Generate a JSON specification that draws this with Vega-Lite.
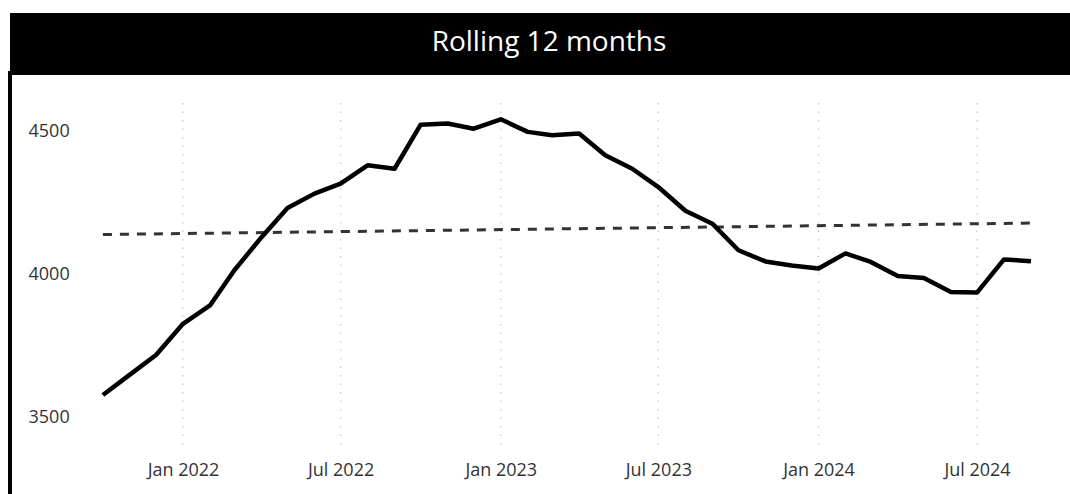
{
  "$schema": "https://vega.github.io/schema/vega-lite/v6.json",
  "padding": {"left": 8, "top": 13, "right": 0, "bottom": 0},
  "background": "white",
  "spacing": 0,
  "config": {"font": "Open Sans", "concat": {"spacing": 0}},
  "datasets": {
    "rolling": [
      {"month": "2021-10-01", "value": 3577},
      {"month": "2021-11-01", "value": 3648},
      {"month": "2021-12-01", "value": 3717},
      {"month": "2022-01-01", "value": 3826},
      {"month": "2022-02-01", "value": 3890},
      {"month": "2022-03-01", "value": 4013},
      {"month": "2022-04-01", "value": 4128},
      {"month": "2022-05-01", "value": 4231},
      {"month": "2022-06-01", "value": 4281},
      {"month": "2022-07-01", "value": 4316},
      {"month": "2022-08-01", "value": 4380},
      {"month": "2022-09-01", "value": 4368},
      {"month": "2022-10-01", "value": 4522},
      {"month": "2022-11-01", "value": 4526},
      {"month": "2022-12-01", "value": 4508},
      {"month": "2023-01-01", "value": 4541},
      {"month": "2023-02-01", "value": 4497},
      {"month": "2023-03-01", "value": 4485},
      {"month": "2023-04-01", "value": 4491},
      {"month": "2023-05-01", "value": 4415},
      {"month": "2023-06-01", "value": 4368},
      {"month": "2023-07-01", "value": 4304},
      {"month": "2023-08-01", "value": 4221},
      {"month": "2023-09-01", "value": 4176},
      {"month": "2023-10-01", "value": 4083},
      {"month": "2023-11-01", "value": 4044},
      {"month": "2023-12-01", "value": 4030},
      {"month": "2024-01-01", "value": 4019},
      {"month": "2024-02-01", "value": 4072},
      {"month": "2024-03-01", "value": 4042},
      {"month": "2024-04-01", "value": 3993},
      {"month": "2024-05-01", "value": 3986},
      {"month": "2024-06-01", "value": 3937},
      {"month": "2024-07-01", "value": 3935},
      {"month": "2024-08-01", "value": 4051},
      {"month": "2024-09-01", "value": 4045}
    ],
    "trend": [
      {"month": "2021-10-01", "value": 4138},
      {"month": "2024-09-01", "value": 4178}
    ],
    "gridDates": [
      {"month": "2022-01-01"},
      {"month": "2022-07-01"},
      {"month": "2023-01-01"},
      {"month": "2023-07-01"},
      {"month": "2024-01-01"},
      {"month": "2024-07-01"}
    ]
  },
  "vconcat": [
    {
      "width": 1070,
      "height": 58,
      "view": {"fill": "black", "stroke": null},
      "data": {"values": [{"title": "Rolling 12 months"}]},
      "mark": {"type": "text", "color": "white", "fontSize": 28, "font": "Open Sans", "dx": 4, "dy": 1, "baseline": "middle", "align": "center"},
      "encoding": {"text": {"field": "title", "type": "nominal"}}
    },
    {
      "width": 1066,
      "height": 430,
      "view": {"fill": "white", "stroke": "black", "strokeWidth": 4},
      "encoding": {
        "x": {
          "field": "month",
          "type": "temporal",
          "scale": {"type": "utc", "domain": [1623826627708, 1729616789925], "nice": false},
          "axis": {
            "orient": "bottom",
            "offset": -42,
            "labelPadding": 0,
            "ticks": false,
            "domain": false,
            "grid": false,
            "values": [1640995200000, 1656633600000, 1672531200000, 1688169600000, 1704067200000, 1719792000000],
            "labelExpr": "utcFormat(datum.value, '%b %Y')",
            "labelFontSize": 18,
            "labelColor": "#333333",
            "labelFlush": false,
            "labelOverlap": false,
            "title": null
          }
        }
      },
      "layer": [
        {
          "data": {"name": "gridDates"},
          "mark": {"type": "rule", "color": "#c6c6c6", "strokeDash": [1.5, 7], "strokeWidth": 1.2},
          "encoding": {
            "y": {
              "datum": 4598,
              "type": "quantitative",
              "scale": {"domain": [3199.3, 4702.8], "nice": false, "zero": false},
              "axis": {
                "orient": "left",
                "offset": -18,
                "labelPadding": 0,
                "labelAlign": "left",
                "labelBaseline": "middle",
                "ticks": false,
                "domain": false,
                "grid": false,
                "values": [3500, 4000, 4500],
                "format": "d",
                "labelFontSize": 18,
                "labelColor": "#333333",
                "title": null
              }
            },
            "y2": {"datum": 3385}
          }
        },
        {
          "data": {"name": "trend"},
          "mark": {"type": "line", "color": "#333333", "strokeWidth": 3, "strokeDash": [9, 8]},
          "encoding": {
            "y": {"field": "value", "type": "quantitative"}
          }
        },
        {
          "data": {"name": "rolling"},
          "mark": {"type": "line", "color": "black", "strokeWidth": 4.5, "strokeJoin": "round"},
          "encoding": {
            "y": {"field": "value", "type": "quantitative"}
          }
        }
      ]
    }
  ]
}
